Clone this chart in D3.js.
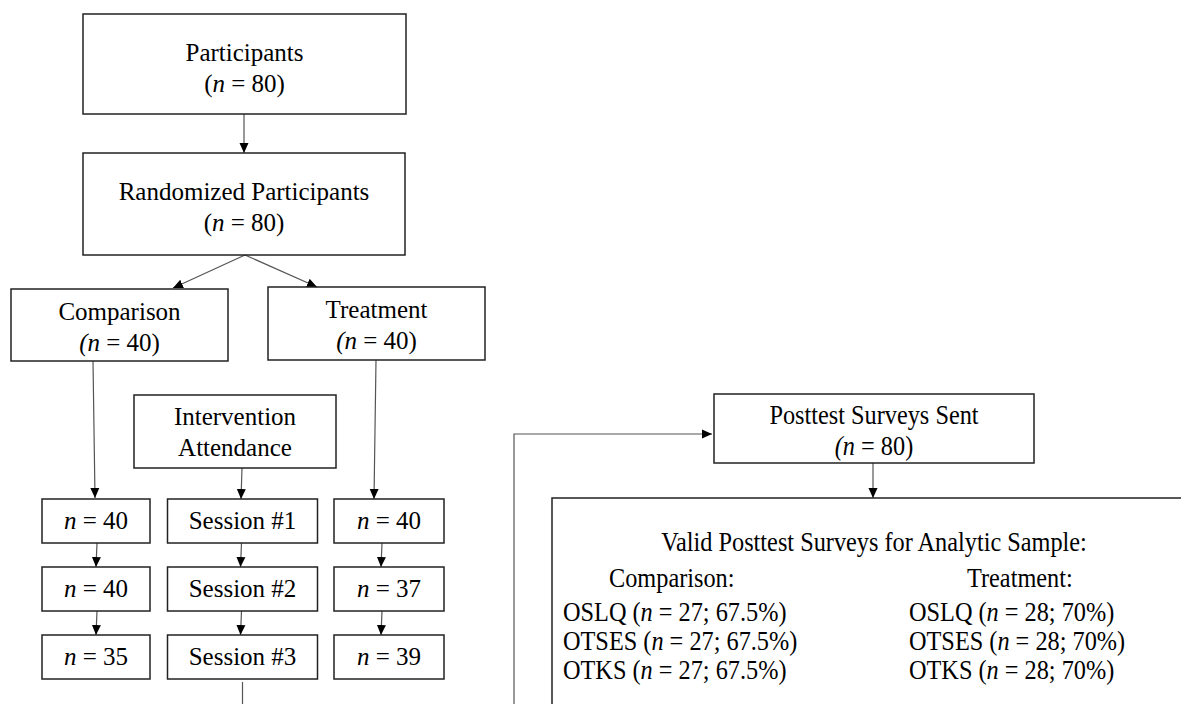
<!DOCTYPE html>
<html>
<head>
<meta charset="utf-8">
<script src="https://cdn.jsdelivr.net/npm/d3@7"></script>
<style>
  body { margin: 0; background: #fff; }
  svg text { font-family: "Liberation Serif", "Times New Roman", serif; fill: #000; }
</style>
</head>
<body>
<svg id="chart" width="1181" height="704"></svg>
<script>
const totalN = 80;
const groups = ["Comparison", "Treatment"];
const groupN = [40, 40];
const sessions = ["Session #1", "Session #2", "Session #3"];
const comparisonN = [40, 40, 35];
const treatmentN = [40, 37, 39];
const posttestN = 80;
const measures = ["OSLQ", "OTSES", "OTKS"];
const comparisonValid = [27, 27, 27];
const comparisonPct = [67.5, 67.5, 67.5];
const treatmentValid = [28, 28, 28];
const treatmentPct = [70, 70, 70];

var svg = d3.select('#chart');
var fontSize = 25;
var lineGap = 31;

// arrow head
svg.append('defs').append('marker')
  .attr('id', 'arrow')
  .attr('viewBox', '0 0 10 10')
  .attr('refX', 10).attr('refY', 5)
  .attr('markerWidth', 10).attr('markerHeight', 10)
  .attr('markerUnits', 'userSpaceOnUse')
  .attr('orient', 'auto')
  .append('path')
  .attr('d', 'M0,0.5L10,5L0,9.5Z')
  .attr('fill', '#000');

// "(n = 80)" style label, paren italic or not
function nLabel(n, italicParen) {
  if (italicParen) return [["(n", true], [" = " + n + ")", false]];
  return [["(", false], ["n", true], [" = " + n + ")", false]];
}

// upper boxes (layout only); the posttest part is set a bit narrower
var boxes = [
  { id: 'participants', x: 83, y: 14, w: 323, h: 100, ty: 53,
    lines: [[["Participants", false]], nLabel(totalN, false)] },
  { id: 'randomized', x: 83, y: 153, w: 322, h: 102, ty: 192,
    lines: [[["Randomized Participants", false]], nLabel(totalN, false)] },
  { id: 'comparison', x: 11, y: 289, w: 217, h: 72, ty: 312,
    lines: [[[groups[0], false]], nLabel(groupN[0], true)] },
  { id: 'treatment', x: 268, y: 287, w: 217, h: 73, ty: 310,
    lines: [[[groups[1], false]], nLabel(groupN[1], true)] },
  { id: 'intervention', x: 134, y: 395, w: 202, h: 73, ty: 417,
    lines: [[["Intervention", false]], [["Attendance", false]]] },
  { id: 'posttest', x: 714, y: 394, w: 320, h: 69, ty: 415, narrow: true,
    lines: [[["Posttest Surveys Sent", false]], nLabel(posttestN, true)] }
];

// lower three columns of small boxes
var colX = d3.scalePoint()
  .domain(['comparison', 'sessions', 'treatment'])
  .range([96, 389]);
var colW = { comparison: 108, sessions: 150, treatment: 110 };
var arrowDx = { comparison: 0, sessions: -2, treatment: -8 };
var rowY = d3.scalePoint().domain([0, 1, 2]).range([521, 657]);
var rowH = 44;

sessions.forEach(function(s, i) {
  boxes.push({ x: colX('sessions') - colW.sessions / 2, y: rowY(i) - rowH / 2,
    w: colW.sessions, h: rowH, ty: rowY(i), lines: [[[s, false]]] });
});
comparisonN.forEach(function(n, i) {
  boxes.push({ x: colX('comparison') - colW.comparison / 2, y: rowY(i) - rowH / 2,
    w: colW.comparison, h: rowH, ty: rowY(i), lines: [[["n", true], [" = " + n, false]]] });
});
treatmentN.forEach(function(n, i) {
  boxes.push({ x: colX('treatment') - colW.treatment / 2, y: rowY(i) - rowH / 2,
    w: colW.treatment, h: rowH, ty: rowY(i), lines: [[["n", true], [" = " + n, false]]] });
});

// analytic sample box runs off the right edge
var valid = { x: 552, y: 498, w: 700, h: 300 };

// connectors
var lineG = svg.append('g')
  .attr('fill', 'none')
  .attr('stroke', '#555')
  .attr('stroke-width', 1.2);

function connector(points, arrow) {
  var p = lineG.append('path').attr('d', d3.line()(points));
  if (arrow) p.attr('marker-end', 'url(#arrow)');
}

var byId = {};
boxes.forEach(function(b) { if (b.id) byId[b.id] = b; });

var P = byId.participants, R = byId.randomized, C = byId.comparison,
    T = byId.treatment, I = byId.intervention, S = byId.posttest;

connector([[244, P.y + P.h], [244, R.y]], true);
connector([[245, R.y + R.h], [173, C.y - 1]], true);
connector([[245, R.y + R.h], [317, T.y]], true);
connector([[93, C.y + C.h], [95, rowY(0) - rowH / 2 - 1]], true);
connector([[376, T.y + T.h], [374, rowY(0) - rowH / 2]], true);
connector([[242, I.y + I.h], [241, rowY(0) - rowH / 2]], true);

['comparison', 'sessions', 'treatment'].forEach(function(col) {
  [0, 1].forEach(function(i) {
    var x = colX(col) + arrowDx[col];
    connector([[x + 1, rowY(i) + rowH / 2], [x, rowY(i + 1) - rowH / 2]], true);
  });
});

// tails leaving the bottom of the picture
connector([[colX('sessions'), rowY(2) + rowH / 2 + 3], [colX('sessions'), 704]], false);
connector([[514, 704], [514, S.y + 40], [S.x - 2, S.y + 40]], true);
connector([[873, S.y + S.h], [873, valid.y]], true);

// boxes
var boxG = svg.append('g');
boxG.selectAll('rect.box')
  .data(boxes.concat([valid]))
  .enter().append('rect')
  .attr('class', 'box')
  .attr('x', d => d.x).attr('y', d => d.y)
  .attr('width', d => d.w).attr('height', d => d.h)
  .attr('fill', 'none')
  .attr('stroke', '#222')
  .attr('stroke-width', 1.5);

function writeLine(g, x, y, segs, anchor, narrow) {
  var t = g.append('text')
    .attr('transform', `translate(${x},${y})` + (narrow ? ' scale(0.9,1)' : ''))
    .attr('dy', '0.33em')
    .attr('font-size', narrow ? 27 : fontSize)
    .attr('text-anchor', anchor || 'middle');
  segs.forEach(function(s) {
    t.append('tspan')
      .attr('font-style', s[1] ? 'italic' : 'normal')
      .text(s[0]);
  });
}

boxes.forEach(function(b) {
  b.lines.forEach(function(segs, i) {
    writeLine(boxG, b.x + b.w / 2, b.ty + i * lineGap, segs, 'middle', b.narrow);
  });
});

// analytic sample text
writeLine(boxG, 874, 542, [["Valid Posttest Surveys for Analytic Sample:", false]], 'middle', true);
writeLine(boxG, 609, 578, [["Comparison:", false]], 'start', true);
writeLine(boxG, 967, 578, [["Treatment:", false]], 'start', true);

var measureY = d3.scalePoint().domain(measures).range([612, 670]);
measures.forEach(function(m, i) {
  writeLine(boxG, 563, measureY(m),
    [[m + " (", false], ["n", true], [" = " + comparisonValid[i] + "; " + comparisonPct[i] + "%)", false]], 'start', true);
  writeLine(boxG, 909, measureY(m),
    [[m + " (", false], ["n", true], [" = " + treatmentValid[i] + "; " + treatmentPct[i] + "%)", false]], 'start', true);
});
</script>
</body>
</html>
